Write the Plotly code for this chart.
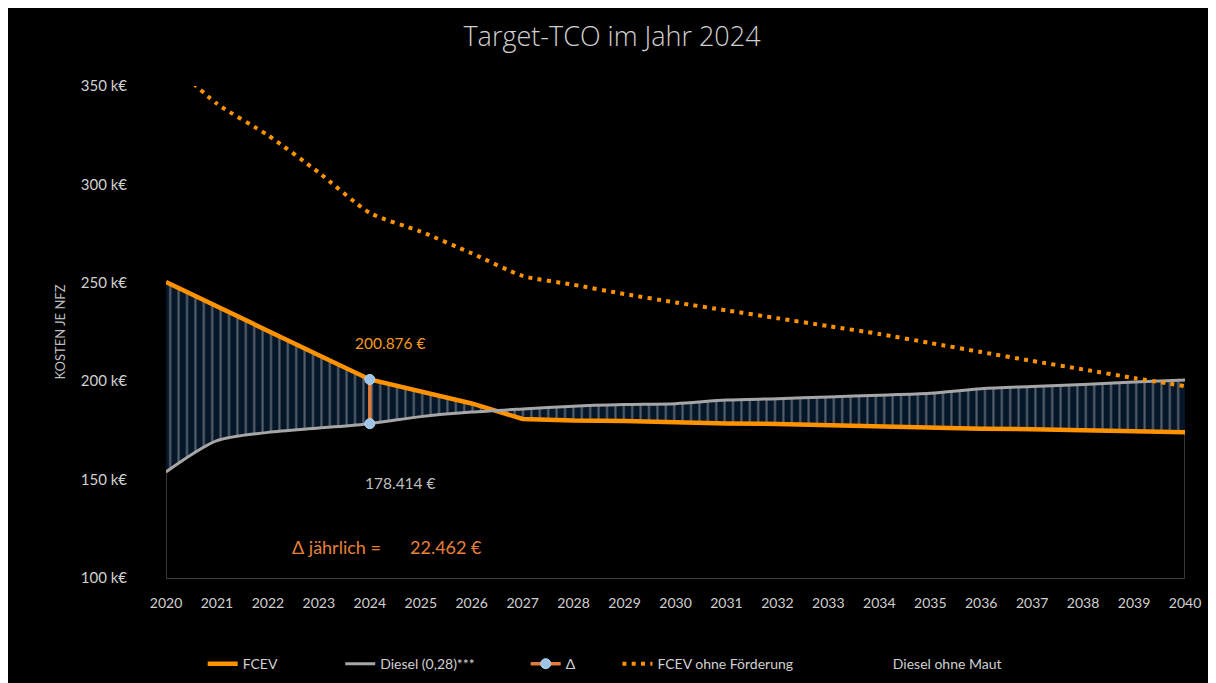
import plotly.graph_objects as go

# Werte in k€ je Nutzfahrzeug
years = list(range(2020, 2041))
fcev = [250.4, 237.8, 225.5, 213.2, 200.876, 194.5, 188.7, 180.8, 180.0, 179.8,
        179.1, 178.5, 178.3, 177.6, 176.9, 176.6, 175.9, 175.6, 175.0, 174.2, 174.0]
diesel = [153.9, 169.8, 174.0, 176.2, 178.414, 182.0, 184.3, 185.9, 187.3, 188.1,
          188.6, 190.4, 191.1, 192.0, 192.9, 193.9, 196.2, 197.3, 198.3, 199.6, 200.6]
fcev_ohne_foerderung = [364.0, 341.0, 325.0, 306.0, 285.5, 276.0, 265.0, 253.5, 249.0, 244.3,
                        240.0, 236.0, 232.0, 228.0, 224.0, 219.4, 214.8, 210.3, 206.0, 201.6, 197.5]
diesel_ohne_maut = [None]
target_year = 2024
y_ticks = [100, 150, 200, 250, 300, 350]
y_labels = [f"{v} k€" for v in y_ticks]

i_t = years.index(target_year)
delta = fcev[i_t] - diesel[i_t]


def eur(v):
    return f"{v * 1000:,.0f} €".replace(",", ".")


ORANGE = "#ff9200"
GRAY = "#a6a6a6"
TXT = "#d0d0d0"
FONT = "Lato"
NAVY = "#061629"

fig = go.Figure()

# dunkle Kanten unter der Fläche
fig.add_trace(go.Scatter(
    x=[years[0], years[0], None, years[-1], years[-1]],
    y=[y_ticks[0], diesel[0], None, y_ticks[0], fcev[-1]],
    mode="lines", line=dict(color="#4a4a4a", width=1.5),
    hoverinfo="skip", showlegend=False))

# schraffierte Fläche zwischen Diesel und FCEV
fig.add_trace(go.Scatter(
    x=years, y=diesel, mode="lines", line=dict(width=0, shape="spline", smoothing=0.8),
    hoverinfo="skip", showlegend=False))
fig.add_trace(go.Scatter(
    x=years, y=fcev, mode="lines", line=dict(width=0),
    fill="tonexty", fillcolor=NAVY,
    fillpattern=dict(shape="|", fgcolor="#a3a9b0", bgcolor=NAVY, size=8.4, solidity=0.25),
    hoverinfo="skip", showlegend=False))

fig.add_trace(go.Scatter(
    x=years, y=fcev, name="FCEV", mode="lines",
    line=dict(color=ORANGE, width=4.5),
    legend="legend", showlegend=True))

fig.add_trace(go.Scatter(
    x=years, y=diesel, name="Diesel (0,28)***", mode="lines",
    line=dict(color=GRAY, width=3, shape="spline", smoothing=0.8),
    legend="legend2", showlegend=True))

fig.add_trace(go.Scatter(
    x=years, y=fcev_ohne_foerderung, name="FCEV ohne Förderung", mode="lines",
    line=dict(color=ORANGE, width=4, dash="4px,5.3px", shape="spline", smoothing=0.6),
    legend="legend4", showlegend=True))

fig.add_trace(go.Scatter(
    x=[target_year, target_year], y=[diesel[i_t], fcev[i_t]], name="Δ",
    mode="lines+markers",
    line=dict(color="#e07b39", width=3.5),
    marker=dict(color="#9dc3e6", size=10, line=dict(color="#bcd6ee", width=1)),
    legend="legend3", showlegend=True))

fig.add_trace(go.Scatter(
    x=diesel_ohne_maut, y=diesel_ohne_maut, name="Diesel ohne Maut", mode="lines",
    line=dict(color="rgba(0,0,0,0)", width=2),
    legend="legend5", showlegend=True))

fig.add_annotation(x=target_year, y=fcev[i_t], text=eur(fcev[i_t]), showarrow=False,
                   xshift=21, yshift=36, font=dict(family=FONT, size=15.5, color="#f39a1e"))
fig.add_annotation(x=target_year, y=diesel[i_t], text=eur(diesel[i_t]), showarrow=False,
                   xshift=31, yshift=-59, font=dict(family=FONT, size=15.5, color="#bfbfbf"))
fig.add_annotation(x=2023.34, y=115.8, text="Δ jährlich =", showarrow=False,
                   font=dict(family=FONT, size=18, color="#e8803a"))
fig.add_annotation(x=2025.5, y=115.8, text=eur(delta), showarrow=False,
                   font=dict(family=FONT, size=18, color="#e8803a"))

leg = dict(orientation="h", y=-0.175, yanchor="middle", xanchor="left",
           bgcolor="rgba(0,0,0,0)", font=dict(family=FONT, size=14, color=TXT))
legend_x = [0.036, 0.171, 0.353, 0.443, 0.674]

fig.update_layout(
    width=1208, height=675,
    margin=dict(l=158, r=31, t=78, b=105, autoexpand=False),
    paper_bgcolor="black", plot_bgcolor="black",
    showlegend=True,
    title=dict(text="Target-TCO im Jahr 2024", x=0.5, xanchor="center", y=0.957, yanchor="middle",
               font=dict(family="Open Sans", size=27, color=TXT, weight=300)),
    font=dict(family=FONT, color=TXT),
    legend=dict(leg, x=legend_x[0]),
    legend2=dict(leg, x=legend_x[1]),
    legend3=dict(leg, x=legend_x[2]),
    legend4=dict(leg, x=legend_x[3]),
    legend5=dict(leg, x=legend_x[4]),
    xaxis=dict(range=[years[0], years[-1]], tickmode="array", tickvals=years,
               showgrid=False, zeroline=False, showline=True, linecolor="#3c3c3c", linewidth=1,
               ticks="", ticklabelstandoff=12, tickfont=dict(family=FONT, size=14, color=TXT)),
    yaxis=dict(range=[y_ticks[0], y_ticks[-1]], tickmode="array", tickvals=y_ticks,
               ticktext=y_labels, showgrid=False, zeroline=False, showline=False,
               ticks="", ticklabelstandoff=38, tickfont=dict(family=FONT, size=15, color=TXT),
               title=dict(text="KOSTEN JE NFZ", standoff=12,
                          font=dict(family=FONT, size=13, color="#bfbfbf"))),
)

fig.write_html("out.html")
